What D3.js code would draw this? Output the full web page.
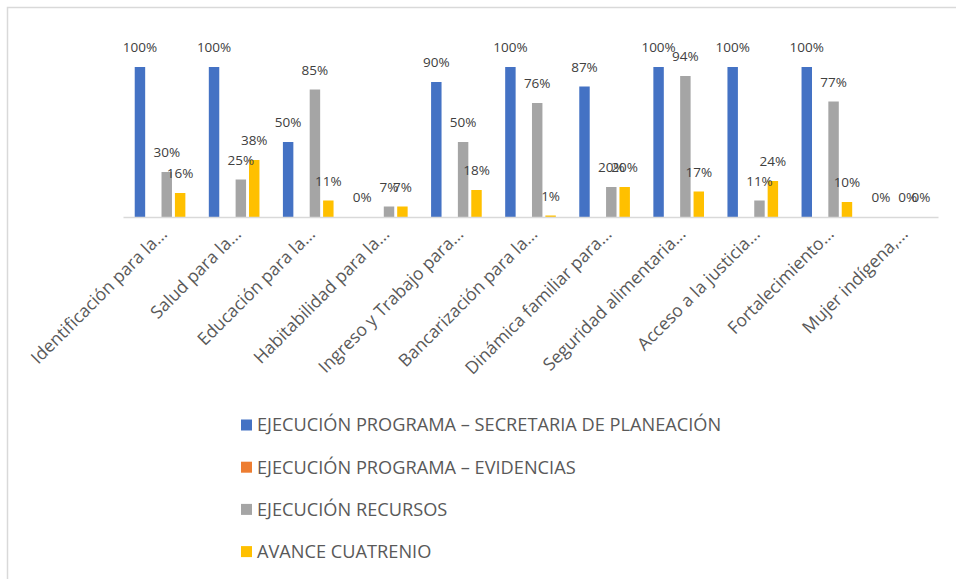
<!DOCTYPE html>
<html>
<head>
<meta charset="utf-8">
<script src="https://cdn.jsdelivr.net/npm/d3@7"></script>
<style>
  body { margin: 0; background: #fff; }
  svg text { font-family: 'Open Sans', 'Noto Sans', sans-serif; }
</style>
</head>
<body>
<script>
const W = 956, H = 579;

// categorías (recortadas como en el original)
const categories = [
  'Identificación para la...',
  'Salud para la...',
  'Educación para la...',
  'Habitabilidad para la...',
  'Ingreso y Trabajo para...',
  'Bancarización para la...',
  'Dinámica familiar para...',
  'Seguridad alimentaria...',
  'Acceso a la justicia...',
  'Fortalecimiento...',
  'Mujer indígena,...'
];

const seriesNames = [
  'EJECUCIÓN PROGRAMA – SECRETARIA DE PLANEACIÓN',
  'EJECUCIÓN PROGRAMA – EVIDENCIAS',
  'EJECUCIÓN RECURSOS',
  'AVANCE CUATRENIO'
];
const seriesColors = ['#4472C4', '#ED7D31', '#A5A5A5', '#FFC000'];

// valores (fracción); null = sin dato
const planeacion = [1.00, 1.00, 0.50, 0.00, 0.90, 1.00, 0.87, 1.00, 1.00, 1.00, 0.00];
const evidencias = [null, null, null, null, null, null, null, null, null, null, null];
const recursos   = [0.30, 0.25, 0.85, 0.07, 0.50, 0.76, 0.20, 0.94, 0.11, 0.77, 0.00];
const cuatrenio  = [0.16, 0.38, 0.11, 0.07, 0.18, 0.01, 0.20, 0.17, 0.24, 0.10, 0.00];
const seriesValues = [planeacion, evidencias, recursos, cuatrenio];

const svg = d3.select('body').append('svg').attr('width', W).attr('height', H);

// marco
svg.append('rect')
  .attr('x', 7.5).attr('y', 7.5)
  .attr('width', W + 10).attr('height', H + 10)
  .attr('fill', 'none').attr('stroke', '#D9D9D9').attr('stroke-width', 1.5);

const plot = { left: 123, right: 938, top: 67, bottom: 217 };

const x0 = d3.scaleBand().domain(categories).range([plot.left, plot.right]);
const x1 = d3.scaleBand().domain(d3.range(4))
  .range([0, x0.bandwidth()]).paddingInner(0.22).paddingOuter(0.875);
const y = d3.scaleLinear().domain([0, 1]).range([plot.bottom, plot.top]);

// barras
const groups = svg.append('g').selectAll('g')
  .data(categories)
  .join('g')
  .attr('transform', d => `translate(${x0(d)},0)`);

const cells = (d, i) => seriesValues.map((vals, s) => ({ s, v: vals[i] })).filter(e => e.v !== null);

groups.selectAll('rect')
  .data(cells)
  .join('rect')
  .attr('x', d => x1(d.s))
  .attr('width', x1.bandwidth())
  .attr('y', d => y(d.v))
  .attr('height', d => plot.bottom - y(d.v))
  .attr('fill', d => seriesColors[d.s]);

// etiquetas de datos
groups.selectAll('text')
  .data(cells)
  .join('text')
  .attr('x', d => x1(d.s) + x1.bandwidth() / 2)
  .attr('y', d => y(d.v) - 15)
  .attr('text-anchor', 'middle')
  .attr('font-size', 13.5)
  .attr('fill', '#404040')
  .text(d => Math.round(d.v * 100) + '%');

// eje x
const axisX = d3.axisBottom(x0).tickSize(0).tickSizeOuter(0);
const gx = svg.append('g').attr('transform', `translate(0,${plot.bottom})`).call(axisX);
gx.select('.domain').attr('stroke', '#D9D9D9').attr('stroke-width', 1.5);
gx.selectAll('.tick text')
  .attr('font-size', 17.5)
  .attr('fill', '#595959')
  .attr('text-anchor', 'end')
  .attr('dy', 0)
  .attr('transform', 'translate(6,16) rotate(-45)');

// leyenda
const legend = svg.append('g').selectAll('g')
  .data(seriesNames)
  .join('g')
  .attr('transform', (d, i) => `translate(241,${425 + i * 42.2})`);

legend.append('rect')
  .attr('x', 0).attr('y', -5.5)
  .attr('width', 11).attr('height', 11)
  .attr('fill', (d, i) => seriesColors[i]);

legend.append('text')
  .attr('x', 16).attr('dy', '0.35em')
  .attr('font-size', 18.2)
  .attr('fill', '#595959')
  .text(d => d);
</script>
</body>
</html>
